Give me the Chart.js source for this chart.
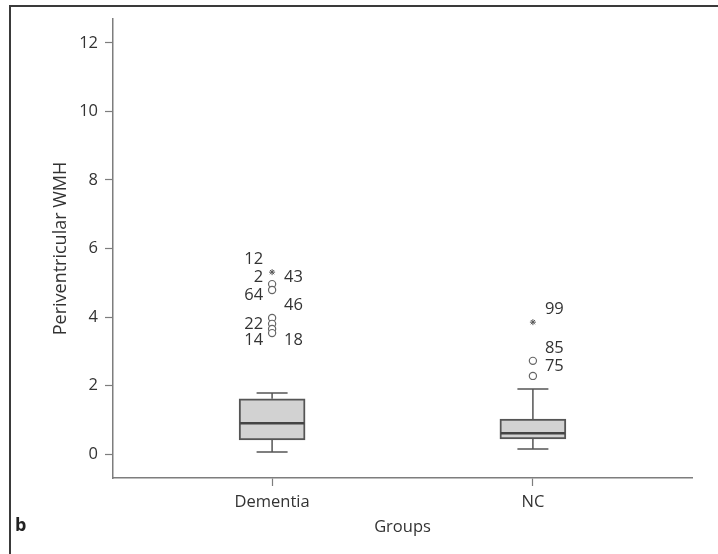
<!DOCTYPE html>
<html>
<head>
<meta charset="utf-8">
<script src="https://cdn.jsdelivr.net/npm/chart.js@4/dist/chart.umd.min.js"></script>
<style>
    body { margin: 0; background: #fff; }
    #wrap { position: relative; width: 718px; height: 554px; overflow: hidden; }
    #frame { position: absolute; left: 9px; top: 5px; width: 720px; height: 560px;
             border-top: 2px solid #3a3a3a; border-left: 2px solid #3a3a3a; }
    #panel { position: absolute; left: 15px; top: 512px; font: bold 18px 'Open Sans', sans-serif; color: #222; }
    canvas { position: absolute; left: 0; top: 0; }
</style>
</head>
<body>
<div id="wrap">
    <div id="frame"></div>
    <canvas id="chart" width="718" height="554"></canvas>
    <div id="panel">b</div>
</div>
<script>
// Groups on the x axis
const groups = ['Dementia', 'NC'];

// Box statistics per group
const whiskerLow = [0.06, 0.15];
const q1 = [0.41, 0.44];
const median = [0.90, 0.61];
const q3 = [1.61, 1.02];
const whiskerHigh = [1.78, 1.90];

// Outliers (o) and extremes (*)
const dementiaCircles = [4.96, 4.79, 3.97, 3.80, 3.65, 3.53];
const dementiaStars = [5.31];
const ncCircles = [2.72, 2.28];
const ncStars = [3.85];

// Case labels next to outliers
const labelTexts = ['12', '2', '43', '64', '46', '22', '14', '18', '99', '85', '75'];
const labelGroup = [0, 0, 0, 0, 0, 0, 0, 0, 1, 1, 1];
const labelValues = [5.69, 5.17, 5.17, 4.64, 4.35, 3.80, 3.33, 3.33, 4.23, 3.09, 2.57];
const labelSide = ['left', 'left', 'right', 'left', 'right', 'left', 'left', 'right', 'right', 'right', 'right'];

const yTicks = [0, 2, 4, 6, 8, 10, 12];

const FONT = "'Open Sans', sans-serif";
const TEXT = '#333';
const AXIS = '#7d7d7d';

// whiskers, medians and case labels on top of the boxes
const boxExtras = {
    id: 'boxExtras',
    afterDatasetsDraw(chart) {
        const { ctx, scales: { x, y } } = chart;
        ctx.save();
        groups.forEach((g, i) => {
            const cx = x.getPixelForValue(i);
            const cap = 15.5;
            ctx.strokeStyle = '#555';
            ctx.lineWidth = 1.5;
            ctx.beginPath();
            ctx.moveTo(cx, y.getPixelForValue(q3[i]));
            ctx.lineTo(cx, y.getPixelForValue(whiskerHigh[i]));
            ctx.moveTo(cx - cap, y.getPixelForValue(whiskerHigh[i]));
            ctx.lineTo(cx + cap, y.getPixelForValue(whiskerHigh[i]));
            ctx.moveTo(cx, y.getPixelForValue(q1[i]));
            ctx.lineTo(cx, y.getPixelForValue(whiskerLow[i]));
            ctx.moveTo(cx - cap, y.getPixelForValue(whiskerLow[i]));
            ctx.lineTo(cx + cap, y.getPixelForValue(whiskerLow[i]));
            ctx.stroke();

            // median
            ctx.strokeStyle = '#444';
            ctx.lineWidth = 2.5;
            ctx.beginPath();
            ctx.moveTo(cx - 32, y.getPixelForValue(median[i]));
            ctx.lineTo(cx + 32, y.getPixelForValue(median[i]));
            ctx.stroke();
        });

        ctx.fillStyle = TEXT;
        ctx.font = `16.5px ${FONT}`;
        ctx.textBaseline = 'middle';
        labelTexts.forEach((t, i) => {
            const cx = x.getPixelForValue(labelGroup[i]);
            const py = y.getPixelForValue(labelValues[i]);
            if (labelSide[i] === 'left') {
                ctx.textAlign = 'right';
                ctx.fillText(t, cx - 9, py);
            } else {
                ctx.textAlign = 'left';
                ctx.fillText(t, cx + 12, py);
            }
        });
        ctx.restore();
    }
};

const toPoints = (i, arr) => arr.map(v => ({ x: i, y: v }));

new Chart(document.getElementById('chart'), {
    type: 'bar',
    data: {
        datasets: [
            {
                data: groups.map((g, i) => ({ x: i, y: [q1[i], q3[i]] })),
                backgroundColor: '#d2d2d2',
                borderColor: '#555',
                borderWidth: 2,
                borderSkipped: false,
                barThickness: 66
            },
            {
                type: 'scatter',
                data: toPoints(0, dementiaCircles).concat(toPoints(1, ncCircles)),
                pointStyle: 'circle',
                pointRadius: 3.6,
                backgroundColor: '#fff',
                borderColor: '#666',
                borderWidth: 1.2
            },
            {
                type: 'scatter',
                data: toPoints(0, dementiaStars).concat(toPoints(1, ncStars)),
                pointStyle: 'star',
                pointRadius: 3,
                borderColor: '#555',
                borderWidth: 1
            }
        ]
    },
    options: {
        responsive: false,
        animation: false,
        layout: { padding: { left: 0, top: 19, right: 26, bottom: 0 } },
        plugins: { legend: { display: false }, tooltip: { enabled: false } },
        scales: {
            x: {
                type: 'linear',
                min: -0.61,
                max: 1.61,
                offset: false,
                afterBuildTicks: s => { s.ticks = groups.map((g, i) => ({ value: i })); },
                afterFit: s => { s.height = 76; },
                ticks: {
                    callback: v => groups[v],
                    color: TEXT,
                    font: { family: FONT, size: 16.5 },
                    padding: 6
                },
                grid: { offset: false, drawOnChartArea: false, color: AXIS, tickLength: 8, tickWidth: 1.2 },
                border: { color: AXIS, width: 1.5 },
                title: {
                    display: true,
                    text: 'Groups',
                    color: TEXT,
                    font: { family: FONT, size: 16.5 },
                    padding: { top: 0, bottom: 17 }
                }
            },
            y: {
                min: -0.7,
                max: 12.7,
                afterBuildTicks: s => { s.ticks = yTicks.map(v => ({ value: v })); },
                afterFit: s => { s.width = 113; },
                ticks: {
                    color: TEXT,
                    font: { family: FONT, size: 16.5 },
                    padding: 7
                },
                grid: { drawOnChartArea: false, color: AXIS, tickLength: 8, tickWidth: 1.2 },
                border: { color: AXIS, width: 1.5 },
                title: {
                    display: true,
                    text: 'Periventricular WMH',
                    color: TEXT,
                    font: { family: FONT, size: 18 },
                    padding: { top: 50, bottom: 0 }
                }
            }
        }
    },
    plugins: [boxExtras]
});
</script>
</body>
</html>
